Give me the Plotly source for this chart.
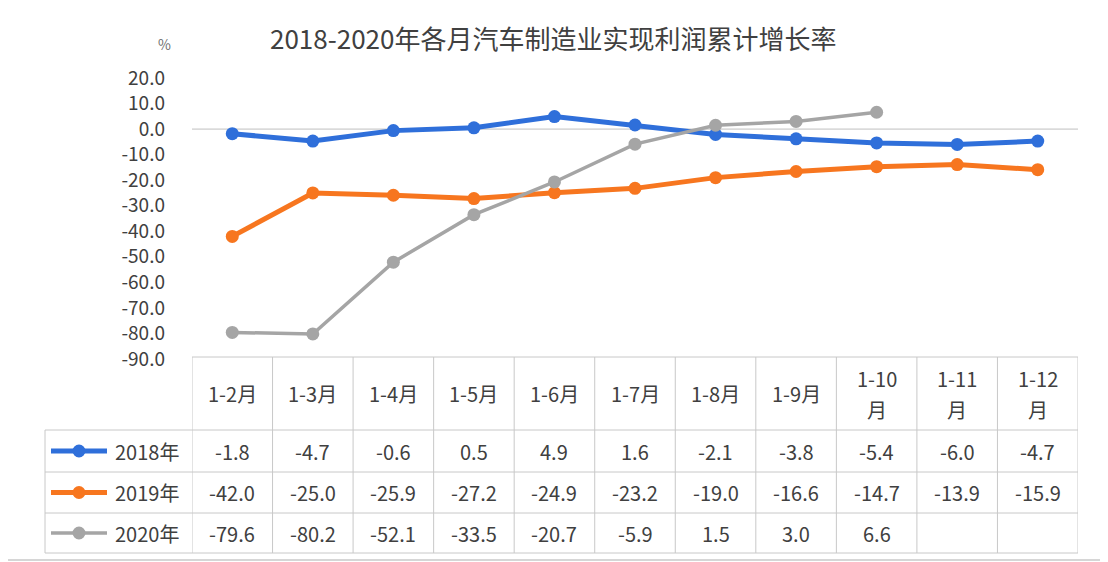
import plotly.graph_objects as go

categories = ["1-2月", "1-3月", "1-4月", "1-5月", "1-6月", "1-7月", "1-8月", "1-9月", "1-10月", "1-11月", "1-12月"]
header_labels = ["1-2月", "1-3月", "1-4月", "1-5月", "1-6月", "1-7月", "1-8月", "1-9月", "1-10<br>月", "1-11<br>月", "1-12<br>月"]
series_names = ["2018年", "2019年", "2020年"]
v2018 = [-1.8, -4.7, -0.6, 0.5, 4.9, 1.6, -2.1, -3.8, -5.4, -6.0, -4.7]
v2019 = [-42.0, -25.0, -25.9, -27.2, -24.9, -23.2, -19.0, -16.6, -14.7, -13.9, -15.9]
v2020 = [-79.6, -80.2, -52.1, -33.5, -20.7, -5.9, 1.5, 3.0, 6.6, None, None]
y_tickvals = [20, 10, 0, -10, -20, -30, -40, -50, -60, -70, -80, -90]
y_ticktext = ["20.0", "10.0", "0.0", "-10.0", "-20.0", "-30.0", "-40.0", "-50.0", "-60.0", "-70.0", "-80.0", "-90.0"]
title_text = "2018-2020年各月汽车制造业实现利润累计增长率"

colors = ["#2F6FDA", "#F7761F", "#A5A5A5"]
widths = [5, 5, 3.5]

# page body has an 8px margin; the figure is sized to fit inside the window
OFF = 8
W, H = 1100, 554
def px(x):
    return (x - OFF) / W
def py(y):
    return 1 - (y - OFF) / H

FONT = "Noto Sans CJK SC, Noto Sans, sans-serif"
TXT = "#404040"
GRID = "#C8C8C8"
FS = 20

fig = go.Figure()
series = [v2018, v2019, v2020]
xs = list(range(len(categories)))
for name, vals, c, w in zip(series_names, series, colors, widths):
    fig.add_trace(go.Scatter(
        x=xs, y=vals, name=name, mode="lines+markers",
        line=dict(color=c, width=w), marker=dict(color=c, size=13),
        connectgaps=False, showlegend=False, cliponaxis=False))

X_LEFT, X_RIGHT = 192, 1078
Y_TOP, Y_BOT = 78, 359
T_TOP = 357
ROW_LINES = [430, 472, 513, 553]
LEG_LEFT = 45
HDR_LINE_GAP = 31

shapes = []
shapes.append(dict(type="line", xref="x", yref="y", x0=-0.5, x1=len(categories) - 0.5, y0=0, y1=0,
                   line=dict(color="#BFBFBF", width=1), layer="below"))
shapes.append(dict(type="line", xref="paper", yref="paper", x0=px(X_LEFT), x1=px(X_RIGHT),
                   y0=py(T_TOP), y1=py(T_TOP), line=dict(color=GRID, width=1)))
for yl in ROW_LINES:
    shapes.append(dict(type="line", xref="paper", yref="paper", x0=px(LEG_LEFT), x1=px(X_RIGHT),
                       y0=py(yl), y1=py(yl), line=dict(color=GRID, width=1)))
for i in range(len(categories) + 1):
    shapes.append(dict(type="line", xref="x", yref="paper", x0=i - 0.5, x1=i - 0.5,
                       y0=py(T_TOP), y1=py(ROW_LINES[-1]), line=dict(color=GRID, width=1)))
shapes.append(dict(type="line", xref="paper", yref="paper", x0=px(LEG_LEFT), x1=px(LEG_LEFT),
                   y0=py(ROW_LINES[0]), y1=py(ROW_LINES[-1]), line=dict(color=GRID, width=1)))
# outer frame (right and bottom edges fall inside the figure)
shapes.append(dict(type="line", xref="paper", yref="paper", x0=px(1104.5), x1=px(1104.5), y0=py(8), y1=py(560),
                   line=dict(color="#C8C8C8", width=1.5)))
shapes.append(dict(type="line", xref="paper", yref="paper", x0=px(8), x1=px(1105), y0=py(560), y1=py(560),
                   line=dict(color="#C8C8C8", width=1.5)))

annotations = []
annotations.append(dict(text=title_text, xref="paper", yref="paper", x=px(553), y=py(38),
                        xanchor="center", yanchor="middle",
                        showarrow=False, font=dict(family=FONT, size=26, color=TXT)))
annotations.append(dict(text="%", xref="paper", yref="paper", x=px(164), y=py(44),
                        xanchor="center", yanchor="middle",
                        showarrow=False, font=dict(family=FONT, size=14, color="#707070")))
hdr_c = (T_TOP + ROW_LINES[0]) / 2
for i, lab in enumerate(header_labels):
    parts = lab.split("<br>")
    n = len(parts)
    for j, part in enumerate(parts):
        yc = hdr_c + (j - (n - 1) / 2) * HDR_LINE_GAP
        annotations.append(dict(text=part, xref="x", yref="paper", x=i, y=py(yc), showarrow=False,
                                xanchor="center", yanchor="middle",
                                font=dict(family=FONT, size=FS, color=TXT)))
row_centers = [(ROW_LINES[k] + ROW_LINES[k + 1]) / 2 for k in range(3)]
for k, (name, vals, c) in enumerate(zip(series_names, series, colors)):
    yc = row_centers[k]
    for i, v in enumerate(vals):
        if v is None:
            continue
        annotations.append(dict(text=f"{v:.1f}", xref="x", yref="paper", x=i, y=py(yc), showarrow=False,
                                xanchor="center", yanchor="middle",
                                font=dict(family=FONT, size=FS, color=TXT)))
    annotations.append(dict(text=name, xref="paper", yref="paper", x=px(113), y=py(yc), xanchor="left",
                            yanchor="middle",
                            showarrow=False, font=dict(family=FONT, size=FS, color=TXT)))
    shapes.append(dict(type="line", xref="paper", yref="paper", x0=px(51), x1=px(107), y0=py(yc), y1=py(yc),
                       line=dict(color=c, width=widths[k])))
    shapes.append(dict(type="circle", xref="paper", yref="paper", xsizemode="pixel", ysizemode="pixel",
                       xanchor=px(79), yanchor=py(yc), x0=-6.5, x1=6.5, y0=-6.5, y1=6.5,
                       fillcolor=c, line=dict(color=c, width=0)))

fig.update_layout(
    width=W, height=H, autosize=False,
    margin=dict(l=0, r=0, t=0, b=0, pad=0, autoexpand=False),
    paper_bgcolor="white", plot_bgcolor="white",
    xaxis=dict(domain=[px(X_LEFT), px(X_RIGHT)], range=[-0.5, len(categories) - 0.5],
               showgrid=False, zeroline=False, showticklabels=False, showline=False, fixedrange=True,
               automargin=False),
    yaxis=dict(domain=[py(Y_BOT), py(Y_TOP)], range=[-90, 20], tickvals=y_tickvals, ticktext=y_ticktext,
               showgrid=False, zeroline=False, showline=False, ticks="", ticklabelstandoff=26,
               automargin=False, fixedrange=True,
               tickfont=dict(family=FONT, size=19, color=TXT)),
    shapes=shapes, annotations=annotations,
)

fig.write_html("out.html")
